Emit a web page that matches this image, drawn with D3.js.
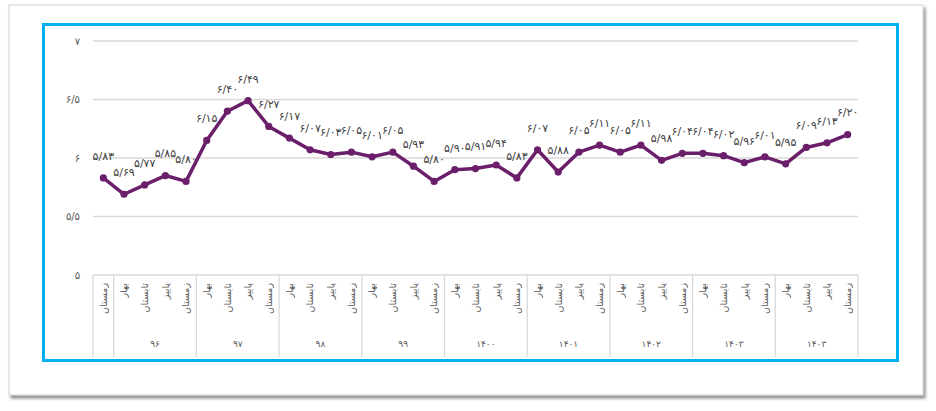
<!DOCTYPE html>
<html>
<head>
<meta charset="utf-8">
<script src="https://cdn.jsdelivr.net/npm/d3@7"></script>
<style>
  body { margin: 0; background: #fff; }
  svg { display: block; font-family: "DejaVu Sans", sans-serif; }
</style>
</head>
<body>
<svg id="chart" width="936" height="411"></svg>
<script>
// seasons per point, years per group (first group has one point, no year label)
const seasons = ["زمستان",
  "بهار", "تابستان", "پاییز", "زمستان",
  "بهار", "تابستان", "پاییز", "زمستان",
  "بهار", "تابستان", "پاییز", "زمستان",
  "بهار", "تابستان", "پاییز", "زمستان",
  "بهار", "تابستان", "پاییز", "زمستان",
  "بهار", "تابستان", "پاییز", "زمستان",
  "بهار", "تابستان", "پاییز", "زمستان",
  "بهار", "تابستان", "پاییز", "زمستان",
  "بهار", "تابستان", "پاییز", "زمستان"];
const years = ["", "۹۶", "۹۷", "۹۸", "۹۹", "۱۴۰۰", "۱۴۰۱", "۱۴۰۲", "۱۴۰۳", "۱۴۰۳"];
const yearSizes = [1, 4, 4, 4, 4, 4, 4, 4, 4, 4];
const values = [5.83, 5.69, 5.77, 5.85, 5.80, 6.15, 6.40, 6.49, 6.27, 6.17,
  6.07, 6.03, 6.05, 6.01, 6.05, 5.93, 5.80, 5.90, 5.91, 5.94,
  5.83, 6.07, 5.88, 6.05, 6.11, 6.05, 6.11, 5.98, 6.04, 6.04,
  6.02, 5.96, 6.01, 5.95, 6.09, 6.13, 6.20];
const yTicks = [5, 5.5, 6, 6.5, 7];

const fa = s => String(s).replace(/\d/g, d => "۰۱۲۳۴۵۶۷۸۹"[d]).replace(".", "/");
const fmt = v => fa(v.toFixed(2));

const svg = d3.select("#chart");

// outer frame with shadow
const defs = svg.append("defs");
const f = defs.append("filter").attr("id", "shadow")
  .attr("x", "-5%").attr("y", "-5%").attr("width", "110%").attr("height", "115%");
f.append("feDropShadow").attr("dx", 2).attr("dy", 3).attr("stdDeviation", 1.6)
  .attr("flood-color", "#000").attr("flood-opacity", 0.45);

svg.append("rect")
  .attr("x", 9).attr("y", 5).attr("width", 914).attr("height", 390)
  .attr("fill", "#fff").attr("stroke", "#d0d0d0").attr("stroke-width", 1)
  .attr("filter", "url(#shadow)");

svg.append("rect")
  .attr("x", 43.5).attr("y", 24.5).attr("width", 854).attr("height", 336)
  .attr("fill", "#fff").attr("stroke", "#00b0f0").attr("stroke-width", 3);

const x0 = 93, x1 = 858;
const x = d3.scaleBand().domain(d3.range(values.length)).range([x0, x1]);
const y = d3.scaleLinear().domain([5, 7]).range([275, 41]);

// gridlines
svg.append("g").selectAll("line").data(yTicks).join("line")
  .attr("x1", x0).attr("x2", x1)
  .attr("y1", d => y(d)).attr("y2", d => y(d))
  .attr("stroke", "#d9d9d9").attr("stroke-width", 1.3);

svg.append("g").selectAll("text").data(yTicks).join("text")
  .attr("x", 80).attr("y", d => y(d)).attr("dy", "0.35em")
  .attr("text-anchor", "end").attr("font-size", 10).attr("fill", "#595959")
  .text(d => fa(d));

// category table
const axisBottom = 357;
let bounds = [0];
yearSizes.forEach((n, i) => bounds.push(bounds[i] + n));
const bx = i => i < values.length ? x(i) : x1;

svg.append("g").selectAll("line").data(bounds).join("line")
  .attr("x1", d => bx(d)).attr("x2", d => bx(d))
  .attr("y1", y(5)).attr("y2", axisBottom)
  .attr("stroke", "#d9d9d9").attr("stroke-width", 1.3);

svg.append("g").selectAll("text").data(seasons).join("text")
  .attr("transform", (d, i) => `translate(${x(i) + x.bandwidth() / 2},283) rotate(-90)`)
  .attr("dy", "0.35em").attr("text-anchor", "end")
  .attr("font-size", 9.5).attr("fill", "#595959")
  .text(d => d);

svg.append("g").selectAll("text").data(years).join("text")
  .attr("x", (d, i) => (bx(bounds[i]) + bx(bounds[i + 1])) / 2)
  .attr("y", 344).attr("dy", "0.35em").attr("text-anchor", "middle")
  .attr("font-size", 9).attr("fill", "#595959")
  .text(d => d);

// line
const cx = i => x(i) + x.bandwidth() / 2;
const line = d3.line().x((d, i) => cx(i)).y(d => y(d));
const purple = "#6b1f6b";

svg.append("path").datum(values)
  .attr("d", line).attr("fill", "none")
  .attr("stroke", purple).attr("stroke-width", 3.5)
  .attr("stroke-linejoin", "round");

svg.append("g").selectAll("circle").data(values).join("circle")
  .attr("cx", (d, i) => cx(i)).attr("cy", d => y(d)).attr("r", 3.6)
  .attr("fill", purple);

svg.append("g").selectAll("text").data(values).join("text")
  .attr("x", (d, i) => cx(i)).attr("y", d => y(d) - 22)
  .attr("dy", "0.35em").attr("text-anchor", "middle")
  .attr("font-size", 11).attr("fill", "#404040")
  .text(d => fmt(d));
</script>
</body>
</html>
